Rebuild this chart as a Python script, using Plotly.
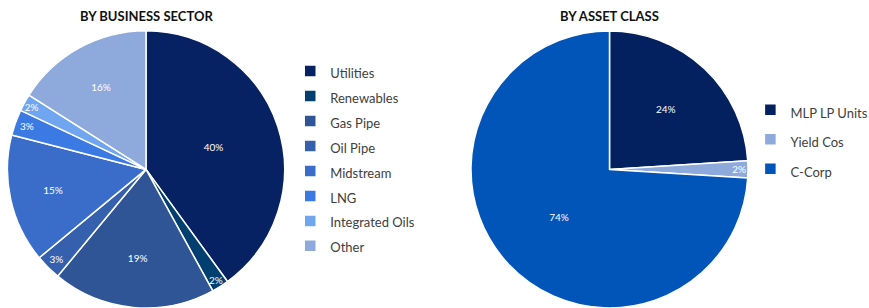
import plotly.graph_objects as go

# ---- data ----
sector_labels = ["Utilities", "Renewables", "Gas Pipe", "Oil Pipe", "Midstream",
                 "LNG", "Integrated Oils", "Other"]
sector_values = [40, 2, 19, 3, 15, 3, 2, 16]
sector_colors = ["#072262", "#013f71", "#2f5597", "#3560ad", "#3a6dc9",
                 "#3b7ae2", "#6fa6ef", "#8eaadc"]

asset_labels = ["MLP LP Units", "Yield Cos", "C-Corp"]
asset_values = [24, 2, 74]
asset_colors = ["#03205f", "#8eaadc", "#0255b8"]

titles = ["BY BUSINESS SECTOR", "BY ASSET CLASS"]

W, H = 869, 308
FONT = "Lato"


def disp(labels):
    return [f"<span style='font-size:13px'>{l}</span>" for l in labels]


fig = go.Figure()

fig.add_trace(go.Pie(
    labels=disp(sector_labels), values=sector_values, sort=False,
    direction="clockwise", rotation=0,
    marker=dict(colors=sector_colors, line=dict(color="white", width=1.5)),
    texttemplate="%{value}%", textposition="inside",
    insidetextorientation="horizontal",
    textfont=dict(color="white", size=10, family=FONT),
    domain=dict(x=[7 / W, 285 / W], y=[0, 0.9]),
    legend="legend", hoverinfo="label+percent",
))

fig.add_trace(go.Pie(
    labels=disp(asset_labels), values=asset_values, sort=False,
    direction="clockwise", rotation=0,
    marker=dict(colors=asset_colors, line=dict(color="white", width=1.5)),
    texttemplate="%{value}%", textposition="inside",
    insidetextorientation="horizontal",
    textfont=dict(color="white", size=10, family=FONT),
    domain=dict(x=[471 / W, 748 / W], y=[0, 0.9]),
    legend="legend2", hoverinfo="label+percent",
))

fig.update_layout(
    width=W, height=H,
    margin=dict(l=0, r=0, t=0, b=0, autoexpand=False),
    paper_bgcolor="white", plot_bgcolor="white",
    font=dict(family=FONT, color="#404040"),
    uniformtext=dict(minsize=10, mode="show"),
    legend=dict(x=0.334, y=0.826, xanchor="left", yanchor="top",
                font=dict(size=16.9, color="#404040", family=FONT),
                bgcolor="rgba(0,0,0,0)"),
    legend2=dict(x=0.8635, y=0.708, xanchor="left", yanchor="top",
                 font=dict(size=20.4, color="#404040", family=FONT),
                 bgcolor="rgba(0,0,0,0)"),
    annotations=[
        dict(text=f"<b>{titles[0]}</b>", x=146 / W, y=(H - 15.5) / H,
             xref="paper", yref="paper", xanchor="center", yanchor="middle",
             showarrow=False,
             font=dict(size=13, color="#111111", family=FONT)),
        dict(text=f"<b>{titles[1]}</b>", x=609.5 / W, y=(H - 15.5) / H,
             xref="paper", yref="paper", xanchor="center", yanchor="middle",
             showarrow=False,
             font=dict(size=13, color="#111111", family=FONT)),
    ],
)

fig.write_html(
    "out.html",
    config={"displayModeBar": False},
    post_script="document.body.style.margin='0';document.body.style.overflow='hidden';",
)
